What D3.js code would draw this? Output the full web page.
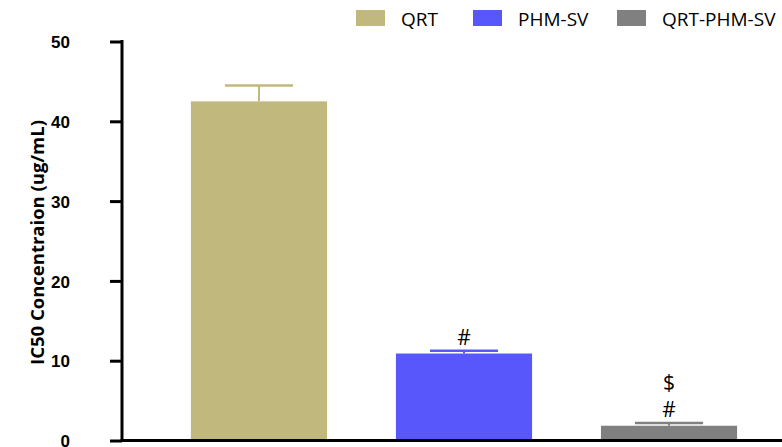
<!DOCTYPE html>
<html>
<head>
<meta charset="utf-8">
<script src="https://cdn.jsdelivr.net/npm/d3@7"></script>
<style>
  html, body { margin: 0; padding: 0; background: #fff; }
  svg { display: block; }
</style>
</head>
<body>
<svg id="chart" width="782" height="447"></svg>
<script>
// IC50 values per formulation (ug/mL) with upper SD
const groups = ["QRT", "PHM-SV", "QRT-PHM-SV"];
const ic50 = [42.5, 10.9, 1.85];
const sd = [2.0, 0.35, 0.35];
const marks = [[], ["#"], ["$", "#"]];
const colors = ["#c0b87c", "#5757fb", "#808080"];
const yTicks = [0, 10, 20, 30, 40, 50];

const svg = d3.select("#chart");
const W = 782;

const y = d3.scaleLinear().domain([0, 50]).range([440.5, 41.5]);
const x = d3.scaleBand().domain(groups).range([122, 806])
  .paddingInner(0.336).paddingOuter(0.336);

// bars
svg.selectAll("rect.bar").data(groups).join("rect")
  .attr("class", "bar")
  .attr("x", d => x(d))
  .attr("y", (d, i) => y(ic50[i]))
  .attr("width", x.bandwidth())
  .attr("height", (d, i) => y(0) - y(ic50[i]))
  .attr("fill", (d, i) => colors[i]);

// upper error bars
const eb = svg.selectAll("g.err").data(groups).join("g").attr("class", "err");
eb.append("line")
  .attr("x1", d => x(d) + x.bandwidth() / 2)
  .attr("x2", d => x(d) + x.bandwidth() / 2)
  .attr("y1", (d, i) => y(ic50[i]))
  .attr("y2", (d, i) => y(ic50[i] + sd[i]))
  .attr("stroke", (d, i) => colors[i]).attr("stroke-width", 2);
eb.append("line")
  .attr("x1", d => x(d) + x.bandwidth() / 4)
  .attr("x2", d => x(d) + x.bandwidth() * 3 / 4)
  .attr("y1", (d, i) => y(ic50[i] + sd[i]))
  .attr("y2", (d, i) => y(ic50[i] + sd[i]))
  .attr("stroke", (d, i) => colors[i]).attr("stroke-width", 2.5);

// significance symbols stacked above the error bars
groups.forEach((g, i) => {
  const m = marks[i];
  m.forEach((s, k) => {
    svg.append("text")
      .attr("x", x(g) + x.bandwidth() / 2)
      .attr("y", y(ic50[i] + sd[i]) - 6 - (m.length - 1 - k) * 27)
      .attr("text-anchor", "middle")
      .attr("font-family", "'Open Sans', sans-serif")
      .attr("font-size", 21)
      .attr("fill", "#000")
      .text(s);
  });
});

// y axis
const yAxis = d3.axisLeft(y).tickValues(yTicks).tickSize(12).tickPadding(40).tickFormat(d3.format("d"));
const ya = svg.append("g").attr("transform", "translate(122,0)").call(yAxis);
ya.select(".domain").remove();
ya.selectAll(".tick line").attr("stroke", "#000").attr("stroke-width", 3);
ya.selectAll(".tick text")
  .attr("font-family", "'Liberation Sans', Arial, sans-serif")
  .attr("font-weight", "bold").attr("font-size", 17).attr("fill", "#000")
  .attr("dy", "0.36em");
svg.append("line").attr("x1", 122).attr("x2", 122).attr("y1", y(50) - 1.5).attr("y2", y(0) + 1.5)
  .attr("stroke", "#000").attr("stroke-width", 3);

// x axis baseline
svg.append("line").attr("x1", 120.5).attr("x2", W).attr("y1", y(0)).attr("y2", y(0))
  .attr("stroke", "#000").attr("stroke-width", 3);

// y axis title
svg.append("text")
  .attr("transform", "translate(43.5,242.5) rotate(-90)")
  .attr("text-anchor", "middle")
  .attr("font-family", "'Open Sans', sans-serif")
  .attr("font-weight", "bold").attr("font-size", 18.5).attr("fill", "#000")
  .text("IC50 Concentraion (ug/mL)");

// legend
const legX = [356, 473, 617];
const lg = svg.selectAll("g.leg").data(groups).join("g").attr("class", "leg")
  .attr("transform", (d, i) => `translate(${legX[i]},0)`);
lg.append("rect").attr("x", 0).attr("y", 10).attr("width", 29).attr("height", 16)
  .attr("fill", (d, i) => colors[i]);
lg.append("text").attr("x", 45).attr("y", 26)
  .attr("font-family", "'Open Sans', sans-serif").attr("font-size", 19).attr("fill", "#000")
  .text(d => d);
</script>
</body>
</html>
